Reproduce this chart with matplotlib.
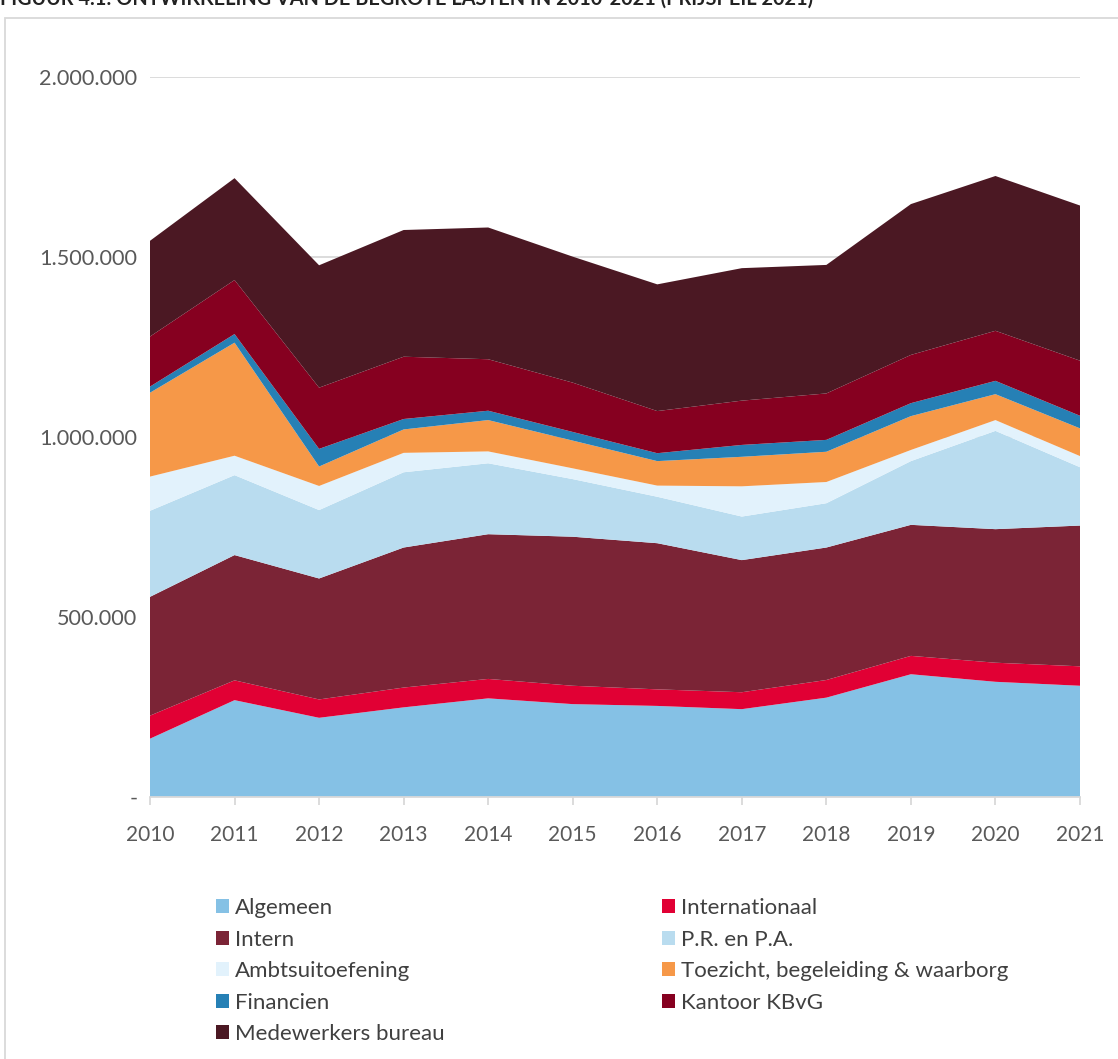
import matplotlib
matplotlib.use('Agg')
import matplotlib.pyplot as plt
from matplotlib.patches import Patch, Rectangle
from matplotlib.ticker import FuncFormatter, MultipleLocator

# Begrote lasten per onderdeel (euro, prijspeil 2021)
years = [2010, 2011, 2012, 2013, 2014, 2015, 2016, 2017, 2018, 2019, 2020, 2021]
algemeen = [162000, 269000, 220000, 249000, 274000, 258000, 253000, 244000, 276000, 341000, 320000, 309000]
internationaal = [64000, 55000, 51000, 55000, 54000, 51000, 46000, 47000, 49000, 51000, 53000, 54000]
intern = [330000, 348000, 336000, 389000, 402000, 414000, 406000, 367000, 368000, 364000, 371000, 391000]
pr_pa = [239000, 222000, 190000, 209000, 197000, 160000, 129000, 121000, 123000, 177000, 273000, 162000]
ambtsuitoefening = [95000, 54000, 67000, 54000, 33000, 30000, 31000, 84000, 59000, 31000, 30000, 31000]
toezicht = [233000, 314000, 54000, 65000, 87000, 77000, 68000, 82000, 84000, 94000, 72000, 77000]
financien = [17000, 24000, 49000, 29000, 26000, 24000, 22000, 33000, 33000, 36000, 37000, 35000]
kantoor_kbvg = [139000, 150000, 170000, 173000, 143000, 137000, 117000, 123000, 129000, 134000, 139000, 153000]
medewerkers = [266000, 283000, 340000, 352000, 366000, 350000, 352000, 368000, 357000, 419000, 430000, 431000]

labels = ['Algemeen', 'Internationaal', 'Intern', 'P.R. en P.A.', 'Ambtsuitoefening',
          'Toezicht, begeleiding & waarborg', 'Financien', 'Kantoor KBvG', 'Medewerkers bureau']
colors = ['#85C1E5', '#E10034', '#7B2436', '#B9DCEF', '#E2F2FC',
          '#F69848', '#2680B5', '#860020', '#4B1823']
series = [algemeen, internationaal, intern, pr_pa, ambtsuitoefening,
          toezicht, financien, kantoor_kbvg, medewerkers]

plt.rcParams['font.family'] = ['Lato', 'DejaVu Sans']
text_grey = '#595959'
line_grey = '#D9D9D9'

fig = plt.figure(figsize=(11.18, 10.59), dpi=100)
fig.patch.set_facecolor('white')

# frame of the chart area (runs off the right and bottom edge)
fig.patches.append(Rectangle((5 / 1118, -0.05), 1.1, 1 - 18 / 1059 + 0.05,
                             transform=fig.transFigure, fill=False,
                             edgecolor=line_grey, linewidth=1.3))

# caption sits mostly above the picture, as in the original crop
fig.text(0, 1 - 5 / 1059, 'FIGUUR 4.1: ONTWIKKELING VAN DE BEGROTE LASTEN IN 2010-2021 (PRIJSPEIL 2021)',
         fontsize=14.3, fontweight='bold', color='#222222', ha='left', va='baseline')

ax = fig.add_axes([150 / 1118, 1 - 797 / 1059, 930 / 1118, 720 / 1059])
ax.stackplot(years, *series, colors=colors, labels=labels, linewidth=0)

ax.set_xlim(2010, 2021)
ax.set_ylim(0, 2000000)
ax.set_xticks(years)
ax.yaxis.set_major_locator(MultipleLocator(500000))
ax.yaxis.set_major_formatter(FuncFormatter(
    lambda v, pos: '-' if v == 0 else f'{v:,.0f}'.replace(',', '.')))

ax.set_axisbelow(True)
ax.yaxis.grid(True, color=line_grey, linewidth=1.3)
for side in ['top', 'right', 'left']:
    ax.spines[side].set_visible(False)
ax.spines['bottom'].set_color(line_grey)
ax.spines['bottom'].set_linewidth(1.3)
ax.tick_params(axis='x', colors=line_grey, length=6, width=1.3, labelsize=15,
               labelcolor=text_grey, pad=14)
ax.tick_params(axis='y', length=0, labelsize=15.6, labelcolor=text_grey, pad=9)

# legend: two columns, row order as in the original
handles = [Patch(facecolor=c, edgecolor='none') for c in colors]
col1 = [0, 2, 4, 6, 8]
col2 = [1, 3, 5, 7]
for idx, x0 in [(col1, 216), (col2, 662)]:
    fig.legend([handles[i] for i in idx], [labels[i] for i in idx],
               loc='upper left', bbox_to_anchor=(x0 / 1118, 1 - 898 / 1059),
               frameon=False, fontsize=16, labelcolor='#404040',
               handlelength=0.6, handleheight=0.6, handletextpad=0.25,
               labelspacing=0.52, borderpad=0, borderaxespad=0)

fig.savefig('out.png', dpi=100, facecolor='white')
